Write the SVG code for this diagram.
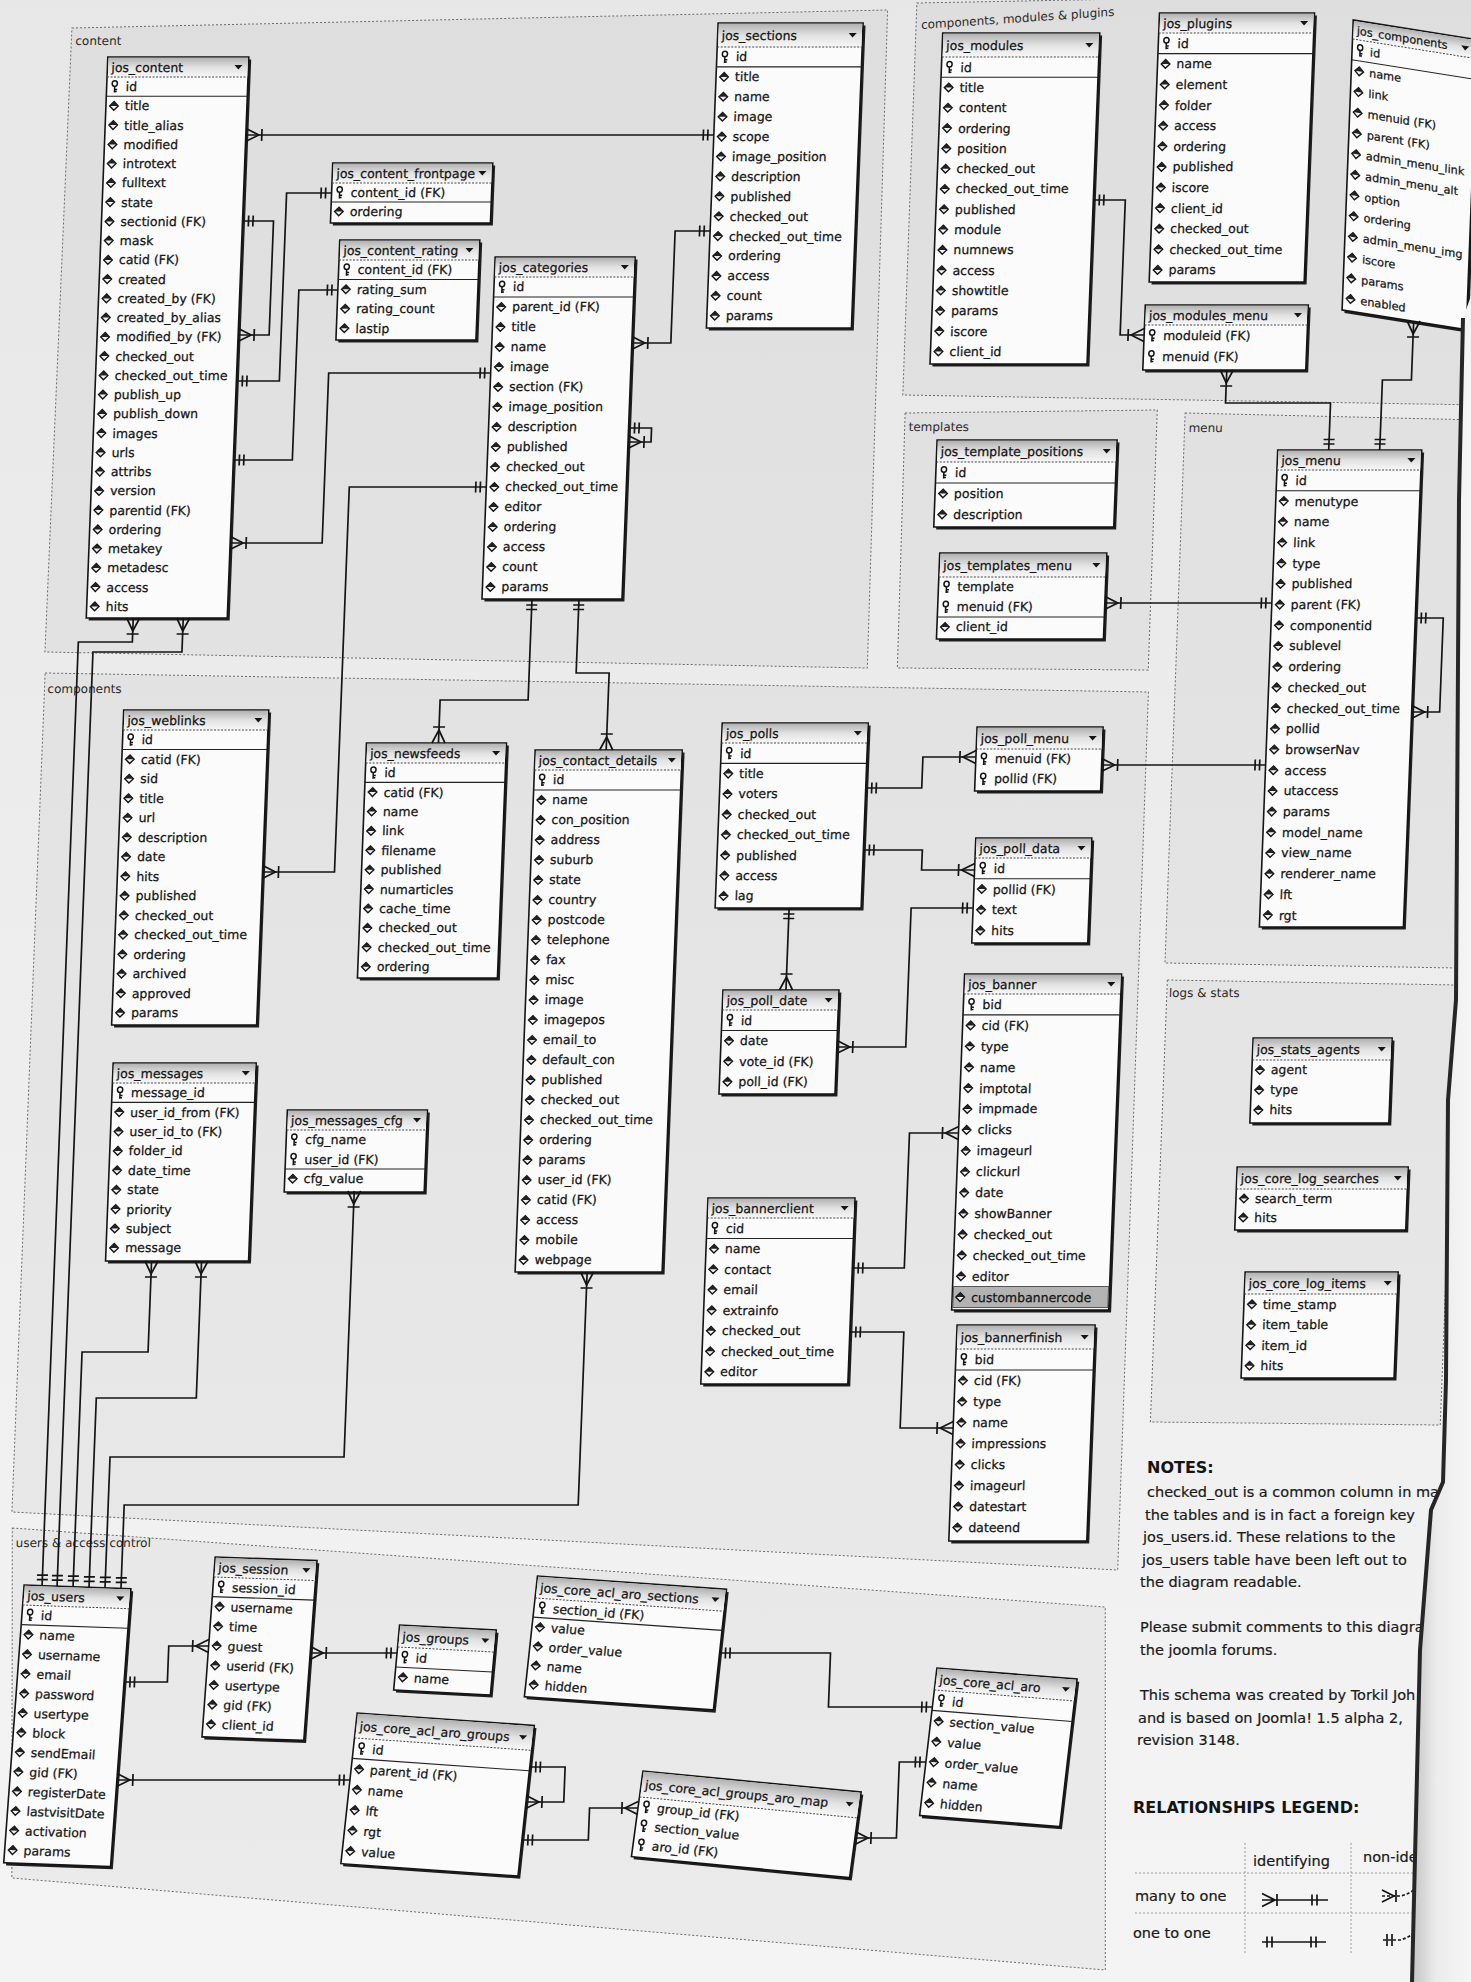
<svg xmlns="http://www.w3.org/2000/svg" width="1471" height="1982" viewBox="0 0 1471 1982">
<defs>
<style>
text{font-family:"DejaVu Sans","Liberation Sans",sans-serif;font-size:12.5px;fill:#141414;stroke:#141414;stroke-width:0.25;dominant-baseline:central}
#jos_components text{font-size:11.3px}
.bx{fill:#fbfbfb;stroke:#141414;stroke-width:1.6}
.sh{fill:#1e1e1e}
.hd{fill:url(#hg)}
.hl{fill:none;stroke:#444;stroke-width:1;stroke-dasharray:2 1.5}
.pl{fill:none;stroke:#222;stroke-width:1.1}
.gb{fill:#000;fill-opacity:0.035;stroke:#6b6b6b;stroke-width:1;stroke-dasharray:2 2}
.gl{font-size:12px;fill:#2a2a2a;stroke:none}
.c{fill:none;stroke:#141414;stroke-width:1.7}
.oo{marker-start:url(#one);marker-end:url(#one)}
.mo{marker-start:url(#many);marker-end:url(#one)}
.om{marker-start:url(#one);marker-end:url(#many)}
.n{font-size:14.5px;dominant-baseline:auto;fill:#1a1a1a;stroke-width:0.2}
.nb{font-size:16px;font-weight:bold;dominant-baseline:auto;stroke:none}
.lg{fill:none;stroke:#9a9a9a;stroke-width:1;stroke-dasharray:2 2}
.ls{fill:none;stroke:#141414;stroke-width:1.7}
</style>
<linearGradient id="bg" x1="0" y1="0" x2="0" y2="1"><stop offset="0" stop-color="#e7e7e7"/><stop offset="1" stop-color="#f4f4f4"/></linearGradient>
<linearGradient id="hg" x1="0" y1="0" x2="0" y2="1"><stop offset="0" stop-color="#b2b2b2"/><stop offset="0.5" stop-color="#e2e2e2"/><stop offset="1" stop-color="#f7f7f7"/></linearGradient>
<linearGradient id="pe" x1="0" y1="0" x2="1" y2="0"><stop offset="0" stop-color="#c4c4c4"/><stop offset="0.4" stop-color="#ebebeb"/><stop offset="1" stop-color="#f6f6f6"/></linearGradient>
<g id="d"><path d="M0-4.3L4.3 0L0 4.3L-4.3 0Z" fill="#f2f2f2" stroke="#141414" stroke-width="1.4"/><path d="M-4.3 0L0-4.3L4.3 0Z" fill="#222"/></g>
<g id="k"><ellipse cx="0" cy="-3" rx="2.6" ry="2.8" fill="#fff" stroke="#141414" stroke-width="1.5"/><path d="M0-0.2V6M0 2.8H2.6M0 5H2.2" fill="none" stroke="#141414" stroke-width="1.5"/></g>
<path id="dd" d="M-4-2H4L0 2.5Z" fill="#141414"/>
<marker id="one" markerUnits="userSpaceOnUse" markerWidth="24" markerHeight="24" refX="0" refY="0" orient="auto-start-reverse" overflow="visible"><path d="M-6-5.5V5.5M-10.5-5.5V5.5" fill="none" stroke="#141414" stroke-width="1.7"/></marker>
<marker id="many" markerUnits="userSpaceOnUse" markerWidth="24" markerHeight="24" refX="0" refY="0" orient="auto-start-reverse" overflow="visible"><path d="M0-6.5L-13 0L0 6.5M-16-6V6" fill="none" stroke="#141414" stroke-width="1.7"/></marker>
</defs>
<rect width="1471" height="1982" fill="url(#bg)"/>
<g id="diagram" transform="skewX(-2.2)">
<g id="groups">
<path class="gb" d="M73,28L888,10L893,668L70,652Z"/>
<text class="gl" x="77" y="41">content</text>
<path class="gb" d="M917,3L1495,-8L1495,405L918,395Z"/>
<text class="gl" x="922" y="25" transform="rotate(-3.9 922 25)">components, modules &amp; plugins</text>
<path class="gb" d="M921,413L1173,410L1174,670L923,668Z"/>
<text class="gl" x="925" y="427">templates</text>
<path class="gb" d="M1201,413L1495,420L1495,968L1202,963Z"/>
<text class="gl" x="1205" y="428">menu</text>
<path class="gb" d="M1205,980L1495,985L1495,1425L1205,1422Z"/>
<text class="gl" x="1207" y="993">logs &amp; stats</text>
<path class="gb" d="M71,673L1175,692L1178,1570L70,1512Z"/>
<text class="gl" x="74" y="689">components</text>
<path class="gb" d="M71,1528L1167,1607L1181,1970L84,1878Z"/>
<text class="gl" x="75" y="1543">users &amp; access control</text>
</g>

<g id="jos_content" transform="translate(110,57)">
<rect class="sh" x="2.5" y="2.5" width="141" height="561"/><rect class="bx" width="141" height="561"/><rect class="hd" x="0.8" y="0.8" width="139.4" height="19.2"/><path class="hl" d="M0 20H141"/>
<text x="4" y="10.5">jos_content</text><use href="#dd" x="131" y="10"/><path class="pl" d="M0 39.25H141"/>
<use href="#k" x="8" y="29.6"/><text x="19" y="29.6">id</text>
<use href="#d" x="8" y="48.9"/><text x="19" y="48.9">title</text>
<use href="#d" x="8" y="68.1"/><text x="19" y="68.1">title_alias</text>
<use href="#d" x="8" y="87.4"/><text x="19" y="87.4">modified</text>
<use href="#d" x="8" y="106.6"/><text x="19" y="106.6">introtext</text>
<use href="#d" x="8" y="125.9"/><text x="19" y="125.9">fulltext</text>
<use href="#d" x="8" y="145.1"/><text x="19" y="145.1">state</text>
<use href="#d" x="8" y="164.4"/><text x="19" y="164.4">sectionid (FK)</text>
<use href="#d" x="8" y="183.6"/><text x="19" y="183.6">mask</text>
<use href="#d" x="8" y="202.9"/><text x="19" y="202.9">catid (FK)</text>
<use href="#d" x="8" y="222.1"/><text x="19" y="222.1">created</text>
<use href="#d" x="8" y="241.4"/><text x="19" y="241.4">created_by (FK)</text>
<use href="#d" x="8" y="260.6"/><text x="19" y="260.6">created_by_alias</text>
<use href="#d" x="8" y="279.9"/><text x="19" y="279.9">modified_by (FK)</text>
<use href="#d" x="8" y="299.1"/><text x="19" y="299.1">checked_out</text>
<use href="#d" x="8" y="318.4"/><text x="19" y="318.4">checked_out_time</text>
<use href="#d" x="8" y="337.6"/><text x="19" y="337.6">publish_up</text>
<use href="#d" x="8" y="356.9"/><text x="19" y="356.9">publish_down</text>
<use href="#d" x="8" y="376.1"/><text x="19" y="376.1">images</text>
<use href="#d" x="8" y="395.4"/><text x="19" y="395.4">urls</text>
<use href="#d" x="8" y="414.6"/><text x="19" y="414.6">attribs</text>
<use href="#d" x="8" y="433.9"/><text x="19" y="433.9">version</text>
<use href="#d" x="8" y="453.1"/><text x="19" y="453.1">parentid (FK)</text>
<use href="#d" x="8" y="472.4"/><text x="19" y="472.4">ordering</text>
<use href="#d" x="8" y="491.6"/><text x="19" y="491.6">metakey</text>
<use href="#d" x="8" y="510.9"/><text x="19" y="510.9">metadesc</text>
<use href="#d" x="8" y="530.1"/><text x="19" y="530.1">access</text>
<use href="#d" x="8" y="549.4"/><text x="19" y="549.4">hits</text>
</g>

<g id="jos_content_frontpage" transform="translate(339,163)">
<rect class="sh" x="2.5" y="2.5" width="160" height="60"/><rect class="bx" width="160" height="60"/><rect class="hd" x="0.8" y="0.8" width="158.4" height="19.2"/><path class="hl" d="M0 20H160"/>
<text x="4" y="10.5">jos_content_frontpage</text><use href="#dd" x="150" y="10"/><path class="pl" d="M0 39H160"/>
<use href="#k" x="8" y="29.5"/><text x="19" y="29.5">content_id (FK)</text>
<use href="#d" x="8" y="48.5"/><text x="19" y="48.5">ordering</text>
</g>

<g id="jos_content_rating" transform="translate(349,240)">
<rect class="sh" x="2.5" y="2.5" width="140" height="100"/><rect class="bx" width="140" height="100"/><rect class="hd" x="0.8" y="0.8" width="138.4" height="19.2"/><path class="hl" d="M0 20H140"/>
<text x="4" y="10.5">jos_content_rating</text><use href="#dd" x="130" y="10"/><path class="pl" d="M0 39.5H140"/>
<use href="#k" x="8" y="29.75"/><text x="19" y="29.75">content_id (FK)</text>
<use href="#d" x="8" y="49.25"/><text x="19" y="49.25">rating_sum</text>
<use href="#d" x="8" y="68.75"/><text x="19" y="68.75">rating_count</text>
<use href="#d" x="8" y="88.25"/><text x="19" y="88.25">lastip</text>
</g>

<g id="jos_categories" transform="translate(505,257)">
<rect class="sh" x="2.5" y="2.5" width="140" height="342"/><rect class="bx" width="140" height="342"/><rect class="hd" x="0.8" y="0.8" width="138.4" height="19.2"/><path class="hl" d="M0 20H140"/>
<text x="4" y="10.5">jos_categories</text><use href="#dd" x="130" y="10"/><path class="pl" d="M0 40H140"/>
<use href="#k" x="8" y="30"/><text x="19" y="30">id</text>
<use href="#d" x="8" y="50"/><text x="19" y="50">parent_id (FK)</text>
<use href="#d" x="8" y="70"/><text x="19" y="70">title</text>
<use href="#d" x="8" y="90"/><text x="19" y="90">name</text>
<use href="#d" x="8" y="110"/><text x="19" y="110">image</text>
<use href="#d" x="8" y="130"/><text x="19" y="130">section (FK)</text>
<use href="#d" x="8" y="150"/><text x="19" y="150">image_position</text>
<use href="#d" x="8" y="170"/><text x="19" y="170">description</text>
<use href="#d" x="8" y="190"/><text x="19" y="190">published</text>
<use href="#d" x="8" y="210"/><text x="19" y="210">checked_out</text>
<use href="#d" x="8" y="230"/><text x="19" y="230">checked_out_time</text>
<use href="#d" x="8" y="250"/><text x="19" y="250">editor</text>
<use href="#d" x="8" y="270"/><text x="19" y="270">ordering</text>
<use href="#d" x="8" y="290"/><text x="19" y="290">access</text>
<use href="#d" x="8" y="310"/><text x="19" y="310">count</text>
<use href="#d" x="8" y="330"/><text x="19" y="330">params</text>
</g>

<g id="jos_sections" transform="translate(719,23)">
<rect class="sh" x="2.5" y="2.5" width="145" height="305"/><rect class="bx" width="145" height="305"/><rect class="hd" x="0.8" y="0.8" width="143.4" height="23.2"/><path class="hl" d="M0 24H145"/>
<text x="4" y="12.5">jos_sections</text><use href="#dd" x="135" y="12"/><path class="pl" d="M0 43.9H145"/>
<use href="#k" x="8" y="34"/><text x="19" y="34">id</text>
<use href="#d" x="8" y="53.9"/><text x="19" y="53.9">title</text>
<use href="#d" x="8" y="73.8"/><text x="19" y="73.8">name</text>
<use href="#d" x="8" y="93.7"/><text x="19" y="93.7">image</text>
<use href="#d" x="8" y="113.6"/><text x="19" y="113.6">scope</text>
<use href="#d" x="8" y="133.5"/><text x="19" y="133.5">image_position</text>
<use href="#d" x="8" y="153.4"/><text x="19" y="153.4">description</text>
<use href="#d" x="8" y="173.3"/><text x="19" y="173.3">published</text>
<use href="#d" x="8" y="193.2"/><text x="19" y="193.2">checked_out</text>
<use href="#d" x="8" y="213.1"/><text x="19" y="213.1">checked_out_time</text>
<use href="#d" x="8" y="233"/><text x="19" y="233">ordering</text>
<use href="#d" x="8" y="252.9"/><text x="19" y="252.9">access</text>
<use href="#d" x="8" y="272.8"/><text x="19" y="272.8">count</text>
<use href="#d" x="8" y="292.7"/><text x="19" y="292.7">params</text>
</g>

<g id="jos_modules" transform="translate(944,33)">
<rect class="sh" x="2.5" y="2.5" width="157" height="331"/><rect class="bx" width="157" height="331"/><rect class="hd" x="0.8" y="0.8" width="155.4" height="23.2"/><path class="hl" d="M0 24H157"/>
<text x="4" y="12.5">jos_modules</text><use href="#dd" x="147" y="12"/><path class="pl" d="M0 44.3H157"/>
<use href="#k" x="8" y="34.2"/><text x="19" y="34.2">id</text>
<use href="#d" x="8" y="54.5"/><text x="19" y="54.5">title</text>
<use href="#d" x="8" y="74.8"/><text x="19" y="74.8">content</text>
<use href="#d" x="8" y="95.1"/><text x="19" y="95.1">ordering</text>
<use href="#d" x="8" y="115.4"/><text x="19" y="115.4">position</text>
<use href="#d" x="8" y="135.7"/><text x="19" y="135.7">checked_out</text>
<use href="#d" x="8" y="156"/><text x="19" y="156">checked_out_time</text>
<use href="#d" x="8" y="176.3"/><text x="19" y="176.3">published</text>
<use href="#d" x="8" y="196.6"/><text x="19" y="196.6">module</text>
<use href="#d" x="8" y="216.9"/><text x="19" y="216.9">numnews</text>
<use href="#d" x="8" y="237.2"/><text x="19" y="237.2">access</text>
<use href="#d" x="8" y="257.5"/><text x="19" y="257.5">showtitle</text>
<use href="#d" x="8" y="277.8"/><text x="19" y="277.8">params</text>
<use href="#d" x="8" y="298.1"/><text x="19" y="298.1">iscore</text>
<use href="#d" x="8" y="318.4"/><text x="19" y="318.4">client_id</text>
</g>

<g id="jos_plugins" transform="translate(1160,13)">
<rect class="sh" x="2.5" y="2.5" width="155" height="269"/><rect class="bx" width="155" height="269"/><rect class="hd" x="0.8" y="0.8" width="153.4" height="19.2"/><path class="hl" d="M0 20H155"/>
<text x="4" y="10.5">jos_plugins</text><use href="#dd" x="145" y="10"/><path class="pl" d="M0 40.6H155"/>
<use href="#k" x="8" y="30.3"/><text x="19" y="30.3">id</text>
<use href="#d" x="8" y="50.9"/><text x="19" y="50.9">name</text>
<use href="#d" x="8" y="71.5"/><text x="19" y="71.5">element</text>
<use href="#d" x="8" y="92.1"/><text x="19" y="92.1">folder</text>
<use href="#d" x="8" y="112.7"/><text x="19" y="112.7">access</text>
<use href="#d" x="8" y="133.3"/><text x="19" y="133.3">ordering</text>
<use href="#d" x="8" y="153.9"/><text x="19" y="153.9">published</text>
<use href="#d" x="8" y="174.5"/><text x="19" y="174.5">iscore</text>
<use href="#d" x="8" y="195.1"/><text x="19" y="195.1">client_id</text>
<use href="#d" x="8" y="215.7"/><text x="19" y="215.7">checked_out</text>
<use href="#d" x="8" y="236.3"/><text x="19" y="236.3">checked_out_time</text>
<use href="#d" x="8" y="256.9"/><text x="19" y="256.9">params</text>
</g>

<g id="jos_components" transform="translate(1354,20) skewY(9)">
<rect class="sh" x="2.5" y="2.5" width="125" height="290"/><rect class="bx" width="125" height="290"/><rect class="hd" x="0.8" y="0.8" width="123.4" height="18.2"/><path class="hl" d="M0 19H125"/>
<text x="4" y="10">jos_components</text><use href="#dd" x="113" y="10"/><path class="pl" d="M0 39.7H125"/>
<use href="#k" x="8" y="29.4"/><text x="18" y="29.4">id</text>
<use href="#d" x="8" y="50.1"/><text x="18" y="50.1">name</text>
<use href="#d" x="8" y="70.8"/><text x="18" y="70.8">link</text>
<use href="#d" x="8" y="91.5"/><text x="18" y="91.5">menuid (FK)</text>
<use href="#d" x="8" y="112.2"/><text x="18" y="112.2">parent (FK)</text>
<use href="#d" x="8" y="132.9"/><text x="18" y="132.9">admin_menu_link</text>
<use href="#d" x="8" y="153.6"/><text x="18" y="153.6">admin_menu_alt</text>
<use href="#d" x="8" y="174.3"/><text x="18" y="174.3">option</text>
<use href="#d" x="8" y="195"/><text x="18" y="195">ordering</text>
<use href="#d" x="8" y="215.7"/><text x="18" y="215.7">admin_menu_img</text>
<use href="#d" x="8" y="236.4"/><text x="18" y="236.4">iscore</text>
<use href="#d" x="8" y="257.1"/><text x="18" y="257.1">params</text>
<use href="#d" x="8" y="277.8"/><text x="18" y="277.8">enabled</text>
</g>

<g id="jos_modules_menu" transform="translate(1157,305)">
<rect class="sh" x="2.5" y="2.5" width="163" height="65"/><rect class="bx" width="163" height="65"/><rect class="hd" x="0.8" y="0.8" width="161.4" height="19.2"/><path class="hl" d="M0 20H163"/>
<text x="4" y="10.5">jos_modules_menu</text><use href="#dd" x="153" y="10"/>
<use href="#k" x="8" y="30.5"/><text x="19" y="30.5">moduleid (FK)</text>
<use href="#k" x="8" y="51.5"/><text x="19" y="51.5">menuid (FK)</text>
</g>

<g id="jos_template_positions" transform="translate(954,440)">
<rect class="sh" x="2.5" y="2.5" width="180" height="87"/><rect class="bx" width="180" height="87"/><rect class="hd" x="0.8" y="0.8" width="178.4" height="21.2"/><path class="hl" d="M0 22H180"/>
<text x="4" y="11.5">jos_template_positions</text><use href="#dd" x="170" y="11"/><path class="pl" d="M0 43H180"/>
<use href="#k" x="8" y="32.5"/><text x="19" y="32.5">id</text>
<use href="#d" x="8" y="53.5"/><text x="19" y="53.5">position</text>
<use href="#d" x="8" y="74.5"/><text x="19" y="74.5">description</text>
</g>

<g id="jos_templates_menu" transform="translate(961,553)">
<rect class="sh" x="2.5" y="2.5" width="167" height="86"/><rect class="bx" width="167" height="86"/><rect class="hd" x="0.8" y="0.8" width="165.4" height="23.2"/><path class="hl" d="M0 24H167"/>
<text x="4" y="12.5">jos_templates_menu</text><use href="#dd" x="157" y="12"/><path class="pl" d="M0 64H167"/>
<use href="#k" x="8" y="34"/><text x="19" y="34">template</text>
<use href="#k" x="8" y="54"/><text x="19" y="54">menuid (FK)</text>
<use href="#d" x="8" y="74"/><text x="19" y="74">client_id</text>
</g>

<g id="jos_menu" transform="translate(1295,450)">
<rect class="sh" x="2.5" y="2.5" width="144" height="477"/><rect class="bx" width="144" height="477"/><rect class="hd" x="0.8" y="0.8" width="142.4" height="19.2"/><path class="hl" d="M0 20H144"/>
<text x="4" y="10.5">jos_menu</text><use href="#dd" x="134" y="10"/><path class="pl" d="M0 40.7H144"/>
<use href="#k" x="8" y="30.4"/><text x="19" y="30.4">id</text>
<use href="#d" x="8" y="51.1"/><text x="19" y="51.1">menutype</text>
<use href="#d" x="8" y="71.8"/><text x="19" y="71.8">name</text>
<use href="#d" x="8" y="92.5"/><text x="19" y="92.5">link</text>
<use href="#d" x="8" y="113.2"/><text x="19" y="113.2">type</text>
<use href="#d" x="8" y="133.9"/><text x="19" y="133.9">published</text>
<use href="#d" x="8" y="154.6"/><text x="19" y="154.6">parent (FK)</text>
<use href="#d" x="8" y="175.3"/><text x="19" y="175.3">componentid</text>
<use href="#d" x="8" y="196"/><text x="19" y="196">sublevel</text>
<use href="#d" x="8" y="216.7"/><text x="19" y="216.7">ordering</text>
<use href="#d" x="8" y="237.4"/><text x="19" y="237.4">checked_out</text>
<use href="#d" x="8" y="258.1"/><text x="19" y="258.1">checked_out_time</text>
<use href="#d" x="8" y="278.8"/><text x="19" y="278.8">pollid</text>
<use href="#d" x="8" y="299.5"/><text x="19" y="299.5">browserNav</text>
<use href="#d" x="8" y="320.2"/><text x="19" y="320.2">access</text>
<use href="#d" x="8" y="340.9"/><text x="19" y="340.9">utaccess</text>
<use href="#d" x="8" y="361.6"/><text x="19" y="361.6">params</text>
<use href="#d" x="8" y="382.3"/><text x="19" y="382.3">model_name</text>
<use href="#d" x="8" y="403"/><text x="19" y="403">view_name</text>
<use href="#d" x="8" y="423.7"/><text x="19" y="423.7">renderer_name</text>
<use href="#d" x="8" y="444.4"/><text x="19" y="444.4">lft</text>
<use href="#d" x="8" y="465.1"/><text x="19" y="465.1">rgt</text>
</g>

<g id="jos_stats_agents" transform="translate(1293,1038)">
<rect class="sh" x="2.5" y="2.5" width="139" height="85"/><rect class="bx" width="139" height="85"/><rect class="hd" x="0.8" y="0.8" width="137.4" height="21.2"/><path class="hl" d="M0 22H139"/>
<text x="4" y="11.5">jos_stats_agents</text><use href="#dd" x="129" y="11"/>
<use href="#d" x="8" y="32"/><text x="19" y="32">agent</text>
<use href="#d" x="8" y="52"/><text x="19" y="52">type</text>
<use href="#d" x="8" y="72"/><text x="19" y="72">hits</text>
</g>

<g id="jos_core_log_searches" transform="translate(1282,1167)">
<rect class="sh" x="2.5" y="2.5" width="171" height="63"/><rect class="bx" width="171" height="63"/><rect class="hd" x="0.8" y="0.8" width="169.4" height="21.2"/><path class="hl" d="M0 22H171"/>
<text x="4" y="11.5">jos_core_log_searches</text><use href="#dd" x="161" y="11"/>
<use href="#d" x="8" y="31.5"/><text x="19" y="31.5">search_term</text>
<use href="#d" x="8" y="50.5"/><text x="19" y="50.5">hits</text>
</g>

<g id="jos_core_log_items" transform="translate(1294,1272)">
<rect class="sh" x="2.5" y="2.5" width="153" height="106"/><rect class="bx" width="153" height="106"/><rect class="hd" x="0.8" y="0.8" width="151.4" height="21.2"/><path class="hl" d="M0 22H153"/>
<text x="4" y="11.5">jos_core_log_items</text><use href="#dd" x="143" y="11"/>
<use href="#d" x="8" y="32.25"/><text x="19" y="32.25">time_stamp</text>
<use href="#d" x="8" y="52.75"/><text x="19" y="52.75">item_table</text>
<use href="#d" x="8" y="73.25"/><text x="19" y="73.25">item_id</text>
<use href="#d" x="8" y="93.75"/><text x="19" y="93.75">hits</text>
</g>

<g id="jos_weblinks" transform="translate(151,710)">
<rect class="sh" x="2.5" y="2.5" width="145" height="315"/><rect class="bx" width="145" height="315"/><rect class="hd" x="0.8" y="0.8" width="143.4" height="19.2"/><path class="hl" d="M0 20H145"/>
<text x="4" y="10.5">jos_weblinks</text><use href="#dd" x="135" y="10"/><path class="pl" d="M0 39.5H145"/>
<use href="#k" x="8" y="29.8"/><text x="19" y="29.8">id</text>
<use href="#d" x="8" y="49.3"/><text x="19" y="49.3">catid (FK)</text>
<use href="#d" x="8" y="68.8"/><text x="19" y="68.8">sid</text>
<use href="#d" x="8" y="88.3"/><text x="19" y="88.3">title</text>
<use href="#d" x="8" y="107.8"/><text x="19" y="107.8">url</text>
<use href="#d" x="8" y="127.3"/><text x="19" y="127.3">description</text>
<use href="#d" x="8" y="146.8"/><text x="19" y="146.8">date</text>
<use href="#d" x="8" y="166.3"/><text x="19" y="166.3">hits</text>
<use href="#d" x="8" y="185.8"/><text x="19" y="185.8">published</text>
<use href="#d" x="8" y="205.3"/><text x="19" y="205.3">checked_out</text>
<use href="#d" x="8" y="224.8"/><text x="19" y="224.8">checked_out_time</text>
<use href="#d" x="8" y="244.3"/><text x="19" y="244.3">ordering</text>
<use href="#d" x="8" y="263.8"/><text x="19" y="263.8">archived</text>
<use href="#d" x="8" y="283.3"/><text x="19" y="283.3">approved</text>
<use href="#d" x="8" y="302.8"/><text x="19" y="302.8">params</text>
</g>

<g id="jos_newsfeeds" transform="translate(395,743)">
<rect class="sh" x="2.5" y="2.5" width="140" height="235"/><rect class="bx" width="140" height="235"/><rect class="hd" x="0.8" y="0.8" width="138.4" height="19.2"/><path class="hl" d="M0 20H140"/>
<text x="4" y="10.5">jos_newsfeeds</text><use href="#dd" x="130" y="10"/><path class="pl" d="M0 39.4H140"/>
<use href="#k" x="8" y="29.7"/><text x="19" y="29.7">id</text>
<use href="#d" x="8" y="49.1"/><text x="19" y="49.1">catid (FK)</text>
<use href="#d" x="8" y="68.5"/><text x="19" y="68.5">name</text>
<use href="#d" x="8" y="87.9"/><text x="19" y="87.9">link</text>
<use href="#d" x="8" y="107.3"/><text x="19" y="107.3">filename</text>
<use href="#d" x="8" y="126.7"/><text x="19" y="126.7">published</text>
<use href="#d" x="8" y="146.1"/><text x="19" y="146.1">numarticles</text>
<use href="#d" x="8" y="165.5"/><text x="19" y="165.5">cache_time</text>
<use href="#d" x="8" y="184.9"/><text x="19" y="184.9">checked_out</text>
<use href="#d" x="8" y="204.3"/><text x="19" y="204.3">checked_out_time</text>
<use href="#d" x="8" y="223.7"/><text x="19" y="223.7">ordering</text>
</g>

<g id="jos_contact_details" transform="translate(564,750)">
<rect class="sh" x="2.5" y="2.5" width="147" height="522"/><rect class="bx" width="147" height="522"/><rect class="hd" x="0.8" y="0.8" width="145.4" height="19.2"/><path class="hl" d="M0 20H147"/>
<text x="4" y="10.5">jos_contact_details</text><use href="#dd" x="137" y="10"/><path class="pl" d="M0 40H147"/>
<use href="#k" x="8" y="30"/><text x="19" y="30">id</text>
<use href="#d" x="8" y="50"/><text x="19" y="50">name</text>
<use href="#d" x="8" y="70"/><text x="19" y="70">con_position</text>
<use href="#d" x="8" y="90"/><text x="19" y="90">address</text>
<use href="#d" x="8" y="110"/><text x="19" y="110">suburb</text>
<use href="#d" x="8" y="130"/><text x="19" y="130">state</text>
<use href="#d" x="8" y="150"/><text x="19" y="150">country</text>
<use href="#d" x="8" y="170"/><text x="19" y="170">postcode</text>
<use href="#d" x="8" y="190"/><text x="19" y="190">telephone</text>
<use href="#d" x="8" y="210"/><text x="19" y="210">fax</text>
<use href="#d" x="8" y="230"/><text x="19" y="230">misc</text>
<use href="#d" x="8" y="250"/><text x="19" y="250">image</text>
<use href="#d" x="8" y="270"/><text x="19" y="270">imagepos</text>
<use href="#d" x="8" y="290"/><text x="19" y="290">email_to</text>
<use href="#d" x="8" y="310"/><text x="19" y="310">default_con</text>
<use href="#d" x="8" y="330"/><text x="19" y="330">published</text>
<use href="#d" x="8" y="350"/><text x="19" y="350">checked_out</text>
<use href="#d" x="8" y="370"/><text x="19" y="370">checked_out_time</text>
<use href="#d" x="8" y="390"/><text x="19" y="390">ordering</text>
<use href="#d" x="8" y="410"/><text x="19" y="410">params</text>
<use href="#d" x="8" y="430"/><text x="19" y="430">user_id (FK)</text>
<use href="#d" x="8" y="450"/><text x="19" y="450">catid (FK)</text>
<use href="#d" x="8" y="470"/><text x="19" y="470">access</text>
<use href="#d" x="8" y="490"/><text x="19" y="490">mobile</text>
<use href="#d" x="8" y="510"/><text x="19" y="510">webpage</text>
</g>

<g id="jos_polls" transform="translate(750,723)">
<rect class="sh" x="2.5" y="2.5" width="146" height="185"/><rect class="bx" width="146" height="185"/><rect class="hd" x="0.8" y="0.8" width="144.4" height="19.2"/><path class="hl" d="M0 20H146"/>
<text x="4" y="10.5">jos_polls</text><use href="#dd" x="136" y="10"/><path class="pl" d="M0 40.4H146"/>
<use href="#k" x="8" y="30.2"/><text x="19" y="30.2">id</text>
<use href="#d" x="8" y="50.6"/><text x="19" y="50.6">title</text>
<use href="#d" x="8" y="71"/><text x="19" y="71">voters</text>
<use href="#d" x="8" y="91.4"/><text x="19" y="91.4">checked_out</text>
<use href="#d" x="8" y="111.8"/><text x="19" y="111.8">checked_out_time</text>
<use href="#d" x="8" y="132.2"/><text x="19" y="132.2">published</text>
<use href="#d" x="8" y="152.6"/><text x="19" y="152.6">access</text>
<use href="#d" x="8" y="173"/><text x="19" y="173">lag</text>
</g>

<g id="jos_poll_menu" transform="translate(1005,727)">
<rect class="sh" x="2.5" y="2.5" width="126" height="64"/><rect class="bx" width="126" height="64"/><rect class="hd" x="0.8" y="0.8" width="124.4" height="21.2"/><path class="hl" d="M0 22H126"/>
<text x="4" y="11.5">jos_poll_menu</text><use href="#dd" x="116" y="11"/>
<use href="#k" x="8" y="32"/><text x="19" y="32">menuid (FK)</text>
<use href="#k" x="8" y="52"/><text x="19" y="52">pollid (FK)</text>
</g>

<g id="jos_poll_data" transform="translate(1008,838)">
<rect class="sh" x="2.5" y="2.5" width="116" height="105"/><rect class="bx" width="116" height="105"/><rect class="hd" x="0.8" y="0.8" width="114.4" height="19.2"/><path class="hl" d="M0 20H116"/>
<text x="4" y="10.5">jos_poll_data</text><use href="#dd" x="106" y="10"/><path class="pl" d="M0 40.7H116"/>
<use href="#k" x="8" y="30.35"/><text x="19" y="30.35">id</text>
<use href="#d" x="8" y="51.05"/><text x="19" y="51.05">pollid (FK)</text>
<use href="#d" x="8" y="71.75"/><text x="19" y="71.75">text</text>
<use href="#d" x="8" y="92.45"/><text x="19" y="92.45">hits</text>
</g>

<g id="jos_poll_date" transform="translate(761,990)">
<rect class="sh" x="2.5" y="2.5" width="116" height="104"/><rect class="bx" width="116" height="104"/><rect class="hd" x="0.8" y="0.8" width="114.4" height="19.2"/><path class="hl" d="M0 20H116"/>
<text x="4" y="10.5">jos_poll_date</text><use href="#dd" x="106" y="10"/><path class="pl" d="M0 40.5H116"/>
<use href="#k" x="8" y="30.25"/><text x="19" y="30.25">id</text>
<use href="#d" x="8" y="50.75"/><text x="19" y="50.75">date</text>
<use href="#d" x="8" y="71.25"/><text x="19" y="71.25">vote_id (FK)</text>
<use href="#d" x="8" y="91.75"/><text x="19" y="91.75">poll_id (FK)</text>
</g>

<g id="jos_banner" transform="translate(1002,974)">
<rect class="sh" x="2.5" y="2.5" width="157" height="336"/><rect class="bx" width="157" height="336"/><rect class="hd" x="0.8" y="0.8" width="155.4" height="19.2"/><path class="hl" d="M0 20H157"/>
<text x="4" y="10.5">jos_banner</text><use href="#dd" x="147" y="10"/><path class="pl" d="M0 40.9H157"/>
<rect x="1" y="312.6" width="155" height="20.9" fill="#b3b3b3" stroke="#555" stroke-width="1"/>
<use href="#k" x="8" y="30.5"/><text x="19" y="30.5">bid</text>
<use href="#d" x="8" y="51.4"/><text x="19" y="51.4">cid (FK)</text>
<use href="#d" x="8" y="72.3"/><text x="19" y="72.3">type</text>
<use href="#d" x="8" y="93.2"/><text x="19" y="93.2">name</text>
<use href="#d" x="8" y="114.1"/><text x="19" y="114.1">imptotal</text>
<use href="#d" x="8" y="135"/><text x="19" y="135">impmade</text>
<use href="#d" x="8" y="155.9"/><text x="19" y="155.9">clicks</text>
<use href="#d" x="8" y="176.8"/><text x="19" y="176.8">imageurl</text>
<use href="#d" x="8" y="197.7"/><text x="19" y="197.7">clickurl</text>
<use href="#d" x="8" y="218.6"/><text x="19" y="218.6">date</text>
<use href="#d" x="8" y="239.5"/><text x="19" y="239.5">showBanner</text>
<use href="#d" x="8" y="260.4"/><text x="19" y="260.4">checked_out</text>
<use href="#d" x="8" y="281.3"/><text x="19" y="281.3">checked_out_time</text>
<use href="#d" x="8" y="302.2"/><text x="19" y="302.2">editor</text>
<use href="#d" x="8" y="323.1"/><text x="19" y="323.1">custombannercode</text>
</g>

<g id="jos_bannerclient" transform="translate(754,1198)">
<rect class="sh" x="2.5" y="2.5" width="147" height="186"/><rect class="bx" width="147" height="186"/><rect class="hd" x="0.8" y="0.8" width="145.4" height="19.2"/><path class="hl" d="M0 20H147"/>
<text x="4" y="10.5">jos_bannerclient</text><use href="#dd" x="137" y="10"/><path class="pl" d="M0 40.5H147"/>
<use href="#k" x="8" y="30.3"/><text x="19" y="30.3">cid</text>
<use href="#d" x="8" y="50.8"/><text x="19" y="50.8">name</text>
<use href="#d" x="8" y="71.3"/><text x="19" y="71.3">contact</text>
<use href="#d" x="8" y="91.8"/><text x="19" y="91.8">email</text>
<use href="#d" x="8" y="112.3"/><text x="19" y="112.3">extrainfo</text>
<use href="#d" x="8" y="132.8"/><text x="19" y="132.8">checked_out</text>
<use href="#d" x="8" y="153.3"/><text x="19" y="153.3">checked_out_time</text>
<use href="#d" x="8" y="173.8"/><text x="19" y="173.8">editor</text>
</g>

<g id="jos_bannerfinish" transform="translate(1008,1325)">
<rect class="sh" x="2.5" y="2.5" width="138" height="216"/><rect class="bx" width="138" height="216"/><rect class="hd" x="0.8" y="0.8" width="136.4" height="23.2"/><path class="hl" d="M0 24H138"/>
<text x="4" y="12.5">jos_bannerfinish</text><use href="#dd" x="128" y="12"/><path class="pl" d="M0 45H138"/>
<use href="#k" x="8" y="34.5"/><text x="19" y="34.5">bid</text>
<use href="#d" x="8" y="55.5"/><text x="19" y="55.5">cid (FK)</text>
<use href="#d" x="8" y="76.5"/><text x="19" y="76.5">type</text>
<use href="#d" x="8" y="97.5"/><text x="19" y="97.5">name</text>
<use href="#d" x="8" y="118.5"/><text x="19" y="118.5">impressions</text>
<use href="#d" x="8" y="139.5"/><text x="19" y="139.5">clicks</text>
<use href="#d" x="8" y="160.5"/><text x="19" y="160.5">imageurl</text>
<use href="#d" x="8" y="181.5"/><text x="19" y="181.5">datestart</text>
<use href="#d" x="8" y="202.5"/><text x="19" y="202.5">dateend</text>
</g>

<g id="jos_messages" transform="translate(154,1063)">
<rect class="sh" x="2.5" y="2.5" width="143" height="198"/><rect class="bx" width="143" height="198"/><rect class="hd" x="0.8" y="0.8" width="141.4" height="19.2"/><path class="hl" d="M0 20H143"/>
<text x="4" y="10.5">jos_messages</text><use href="#dd" x="133" y="10"/><path class="pl" d="M0 39.4H143"/>
<use href="#k" x="8" y="29.7"/><text x="19" y="29.7">message_id</text>
<use href="#d" x="8" y="49.1"/><text x="19" y="49.1">user_id_from (FK)</text>
<use href="#d" x="8" y="68.5"/><text x="19" y="68.5">user_id_to (FK)</text>
<use href="#d" x="8" y="87.9"/><text x="19" y="87.9">folder_id</text>
<use href="#d" x="8" y="107.3"/><text x="19" y="107.3">date_time</text>
<use href="#d" x="8" y="126.7"/><text x="19" y="126.7">state</text>
<use href="#d" x="8" y="146.1"/><text x="19" y="146.1">priority</text>
<use href="#d" x="8" y="165.5"/><text x="19" y="165.5">subject</text>
<use href="#d" x="8" y="184.9"/><text x="19" y="184.9">message</text>
</g>

<g id="jos_messages_cfg" transform="translate(330,1110)">
<rect class="sh" x="2.5" y="2.5" width="140" height="82"/><rect class="bx" width="140" height="82"/><rect class="hd" x="0.8" y="0.8" width="138.4" height="19.2"/><path class="hl" d="M0 20H140"/>
<text x="4" y="10.5">jos_messages_cfg</text><use href="#dd" x="130" y="10"/><path class="pl" d="M0 59H140"/>
<use href="#k" x="8" y="29.75"/><text x="19" y="29.75">cfg_name</text>
<use href="#k" x="8" y="49.25"/><text x="19" y="49.25">user_id (FK)</text>
<use href="#d" x="8" y="68.75"/><text x="19" y="68.75">cfg_value</text>
</g>

<g id="jos_users" transform="translate(85,1585) rotate(2)">
<rect class="sh" x="2.5" y="2.5" width="107" height="278"/><rect class="bx" width="107" height="278"/><rect class="hd" x="0.8" y="0.8" width="105.4" height="19.2"/><path class="hl" d="M0 20H107"/>
<text x="4" y="10.5">jos_users</text><use href="#dd" x="97" y="10"/><path class="pl" d="M0 39.6H107"/>
<use href="#k" x="8" y="29.8"/><text x="19" y="29.8">id</text>
<use href="#d" x="8" y="49.4"/><text x="19" y="49.4">name</text>
<use href="#d" x="8" y="69"/><text x="19" y="69">username</text>
<use href="#d" x="8" y="88.6"/><text x="19" y="88.6">email</text>
<use href="#d" x="8" y="108.2"/><text x="19" y="108.2">password</text>
<use href="#d" x="8" y="127.8"/><text x="19" y="127.8">usertype</text>
<use href="#d" x="8" y="147.4"/><text x="19" y="147.4">block</text>
<use href="#d" x="8" y="167"/><text x="19" y="167">sendEmail</text>
<use href="#d" x="8" y="186.6"/><text x="19" y="186.6">gid (FK)</text>
<use href="#d" x="8" y="206.2"/><text x="19" y="206.2">registerDate</text>
<use href="#d" x="8" y="225.8"/><text x="19" y="225.8">lastvisitDate</text>
<use href="#d" x="8" y="245.4"/><text x="19" y="245.4">activation</text>
<use href="#d" x="8" y="265"/><text x="19" y="265">params</text>
</g>

<g id="jos_session" transform="translate(275,1557) rotate(2)">
<rect class="sh" x="2.5" y="2.5" width="102" height="180"/><rect class="bx" width="102" height="180"/><rect class="hd" x="0.8" y="0.8" width="100.4" height="19.2"/><path class="hl" d="M0 20H102"/>
<text x="4" y="10.5">jos_session</text><use href="#dd" x="92" y="10"/><path class="pl" d="M0 39.6H102"/>
<use href="#k" x="8" y="29.8"/><text x="19" y="29.8">session_id</text>
<use href="#d" x="8" y="49.4"/><text x="19" y="49.4">username</text>
<use href="#d" x="8" y="69"/><text x="19" y="69">time</text>
<use href="#d" x="8" y="88.6"/><text x="19" y="88.6">guest</text>
<use href="#d" x="8" y="108.2"/><text x="19" y="108.2">userid (FK)</text>
<use href="#d" x="8" y="127.8"/><text x="19" y="127.8">usertype</text>
<use href="#d" x="8" y="147.4"/><text x="19" y="147.4">gid (FK)</text>
<use href="#d" x="8" y="167"/><text x="19" y="167">client_id</text>
</g>

<g id="jos_groups" transform="translate(462,1625) rotate(3)">
<rect class="sh" x="2.5" y="2.5" width="97" height="65"/><rect class="bx" width="97" height="65"/><rect class="hd" x="0.8" y="0.8" width="95.4" height="21.2"/><path class="hl" d="M0 22H97"/>
<text x="4" y="11.5">jos_groups</text><use href="#dd" x="87" y="11"/><path class="pl" d="M0 42H97"/>
<use href="#k" x="8" y="32"/><text x="19" y="32">id</text>
<use href="#d" x="8" y="52"/><text x="19" y="52">name</text>
</g>

<g id="jos_core_acl_aro_groups" transform="translate(423,1713) rotate(4)">
<rect class="sh" x="2.5" y="2.5" width="178" height="151"/><rect class="bx" width="178" height="151"/><rect class="hd" x="0.8" y="0.8" width="176.4" height="24.2"/><path class="hl" d="M0 25H178"/>
<text x="4" y="13">jos_core_acl_aro_groups</text><use href="#dd" x="168" y="12.5"/><path class="pl" d="M0 45.5H178"/>
<use href="#k" x="8" y="35.3"/><text x="19" y="35.3">id</text>
<use href="#d" x="8" y="55.8"/><text x="19" y="55.8">parent_id (FK)</text>
<use href="#d" x="8" y="76.3"/><text x="19" y="76.3">name</text>
<use href="#d" x="8" y="96.8"/><text x="19" y="96.8">lft</text>
<use href="#d" x="8" y="117.3"/><text x="19" y="117.3">rgt</text>
<use href="#d" x="8" y="137.8"/><text x="19" y="137.8">value</text>
</g>

<g id="jos_core_acl_aro_sections" transform="translate(598,1576) rotate(4)">
<rect class="sh" x="2.5" y="2.5" width="190" height="121"/><rect class="bx" width="190" height="121"/><rect class="hd" x="0.8" y="0.8" width="188.4" height="21.2"/><path class="hl" d="M0 22H190"/>
<text x="4" y="11.5">jos_core_acl_aro_sections</text><use href="#dd" x="180" y="11"/><path class="pl" d="M0 41.2H190"/>
<use href="#k" x="8" y="31.6"/><text x="19" y="31.6">section_id (FK)</text>
<use href="#d" x="8" y="50.8"/><text x="19" y="50.8">value</text>
<use href="#d" x="8" y="70"/><text x="19" y="70">order_value</text>
<use href="#d" x="8" y="89.2"/><text x="19" y="89.2">name</text>
<use href="#d" x="8" y="108.4"/><text x="19" y="108.4">hidden</text>
</g>

<g id="jos_core_acl_aro" transform="translate(1001,1668) rotate(4.5)">
<rect class="sh" x="2.5" y="2.5" width="141" height="148"/><rect class="bx" width="141" height="148"/><rect class="hd" x="0.8" y="0.8" width="139.4" height="21.2"/><path class="hl" d="M0 22H141"/>
<text x="4" y="11.5">jos_core_acl_aro</text><use href="#dd" x="131" y="11"/><path class="pl" d="M0 42.5H141"/>
<use href="#k" x="8" y="32.3"/><text x="19" y="32.3">id</text>
<use href="#d" x="8" y="52.8"/><text x="19" y="52.8">section_value</text>
<use href="#d" x="8" y="73.3"/><text x="19" y="73.3">value</text>
<use href="#d" x="8" y="93.8"/><text x="19" y="93.8">order_value</text>
<use href="#d" x="8" y="114.3"/><text x="19" y="114.3">name</text>
<use href="#d" x="8" y="134.8"/><text x="19" y="134.8">hidden</text>
</g>

<g id="jos_core_acl_groups_aro_map" transform="translate(711,1771) rotate(5.5)">
<rect class="sh" x="2.5" y="2.5" width="220" height="86"/><rect class="bx" width="220" height="86"/><rect class="hd" x="0.8" y="0.8" width="218.4" height="25.2"/><path class="hl" d="M0 26H220"/>
<text x="4" y="13.5">jos_core_acl_groups_aro_map</text><use href="#dd" x="210" y="13"/>
<use href="#k" x="8" y="35.5"/><text x="19" y="35.5">group_id (FK)</text>
<use href="#k" x="8" y="54.5"/><text x="19" y="54.5">section_value</text>
<use href="#k" x="8" y="73.5"/><text x="19" y="73.5">aro_id (FK)</text>
</g>

<g id="connectors">
<path class="c mo" d="M251,135H719"/>
<path class="c om" d="M251,221H282V335H251"/>
<path class="c oo" d="M251,381H294V193H339"/>
<path class="c oo" d="M251,460H310V290H349"/>
<path class="c mo" d="M251,543H343V373H505"/>
<path class="c mo" d="M296,872H368V487H505"/>
<path class="c mo" d="M645,343H684V231H719"/>
<path class="c om" d="M645,428H668V442H645"/>
<path class="c om" d="M555,599V700H467V743"/>
<path class="c om" d="M602,599V673H635V750"/>
<path class="c om" d="M1101,200H1133V335H1157"/>
<path class="c mo" d="M1241,370V403H1346V450"/>
<path class="c mo" d="M1426,321V380H1397V450"/>
<path class="c mo" d="M1128,603H1295"/>
<path class="c om" d="M1439,618H1467V712H1439"/>
<path class="c mo" d="M1131,765H1295"/>
<path class="c om" d="M896,788H952V757H1005"/>
<path class="c om" d="M896,850H955V870H1008"/>
<path class="c mo" d="M877,1047H946V908H1008"/>
<path class="c om" d="M824,908V990"/>
<path class="c mo" d="M1002,1133H953V1268H901"/>
<path class="c om" d="M901,1332H955V1428H1008"/>
<path class="c mo" d="M157,618V642H103V1585.6"/>
<path class="c mo" d="M207,618V652H118V1586.2"/>
<path class="c mo" d="M200,1261V1352H134V1586.7"/>
<path class="c mo" d="M250,1261V1398H150V1587.3"/>
<path class="c mo" d="M400,1191V1457H166V1587.8"/>
<path class="c mo" d="M636,1272V1505H182V1588.4"/>
<path class="c om" d="M188.6,1682H232V1646H271.9"/>
<path class="c mo" d="M373.7,1653H460.5"/>
<path class="c mo" d="M185.2,1780H418.3"/>
<path class="c om" d="M597.7,1767H633V1802H595.2"/>
<path class="c om" d="M592.6,1840H659V1808H707.4"/>
<path class="c oo" d="M783,1653H894V1707H997.9"/>
<path class="c mo" d="M925.6,1838H967V1762H993.6"/>
</g>
</g>

<g id="notes">
<text class="nb" x="1147" y="1473">NOTES:</text>
<text class="n" x="1147" y="1497">checked_out is a common column in ma</text>
<text class="n" x="1145" y="1520">the tables and is in fact a foreign key</text>
<text class="n" x="1143" y="1542">jos_users.id. These relations to the</text>
<text class="n" x="1142" y="1565">jos_users table have been left out to</text>
<text class="n" x="1140" y="1587">the diagram readable.</text>
<text class="n" x="1140" y="1632">Please submit comments to this diagra</text>
<text class="n" x="1140" y="1655">the joomla forums.</text>
<text class="n" x="1140" y="1700">This schema was created by Torkil Joh</text>
<text class="n" x="1138" y="1723">and is based on Joomla! 1.5 alpha 2,</text>
<text class="n" x="1137" y="1745">revision 3148.</text>
<text class="nb" x="1133" y="1813">RELATIONSHIPS LEGEND:</text>
</g>

<g id="legend">
<path class="lg" d="M1245,1843V1953M1351,1843V1953M1135,1873H1425M1135,1913H1425"/>
<text class="n" x="1253" y="1866">identifying</text>
<text class="n" x="1363" y="1862">non-ide</text>
<text class="n" x="1135" y="1901">many to one</text>
<text class="n" x="1133" y="1938">one to one</text>
<path class="ls" d="M1262,1900H1328M1262,1893.5L1275,1900L1262,1906.5M1277,1894V1906M1312,1894.5V1905.5M1317,1894.5V1905.5"/>
<path class="ls" d="M1262,1942H1326M1267,1936.5V1947.5M1272,1936.5V1947.5M1311,1936.5V1947.5M1316,1936.5V1947.5"/>
<path class="ls" d="M1382,1890L1394,1896L1382,1902M1396,1890V1902"/>
<path class="ls" stroke-dasharray="3 2" d="M1382,1896H1400Q1412,1894 1422,1882"/>
<path class="ls" d="M1387,1934V1946M1392,1934V1946"/>
<path class="ls" stroke-dasharray="3 2" d="M1383,1940H1400Q1412,1937 1422,1926"/>
</g>

<g id="page-edge">
<path d="M1471,296L1463,318L1459,500L1456,1000L1448,1100L1446,1380L1443,1482L1431,1510L1420,1650L1412,1982L1471,1982Z" fill="url(#pe)"/>
<path d="M1463,318L1459,500L1456,1000L1448,1100L1446,1380L1443,1482L1431,1510L1420,1650L1412,1982" fill="none" stroke="#262626" stroke-width="4"/>
</g>
</svg>
